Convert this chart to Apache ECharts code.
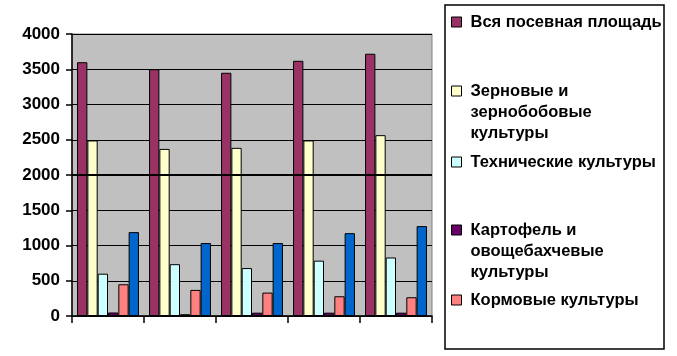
<!DOCTYPE html>
<html><head><meta charset="utf-8">
<script src="https://cdn.jsdelivr.net/npm/echarts@6/dist/echarts.min.js"></script>
<style>html,body{margin:0;padding:0;background:#fff}#c{width:677px;height:356px}</style>
</head><body><div id="c"></div>
<script>
var categories = ['1', '2', '3', '4', '5'];
var seriesNames = ['Вся посевная площадь', 'Зерновые и зернобобовые культуры', 'Технические культуры', 'Картофель и овощебахчевые культуры', 'Кормовые культуры', 'Прочие'];
var legendLines = [['Вся посевная площадь'], ['Зерновые и', 'зернобобовые', 'культуры'], ['Технические культуры'], ['Картофель и', 'овощебахчевые', 'культуры'], ['Кормовые культуры']];
var vsya = [3600, 3500, 3450, 3620, 3720];
var zernovye = [2490, 2370, 2385, 2490, 2565];
var tekhnicheskie = [600, 735, 680, 785, 830];
var kartofel = [50, 25, 47, 47, 47];
var kormovye = [450, 370, 332, 280, 266];
var prochie = [1190, 1035, 1035, 1175, 1275];
var yTicks = [0, 500, 1000, 1500, 2000, 2500, 3000, 3500, 4000];

var colors = ['#993366', '#FFFFCC', '#CCFFFF', '#660066', '#FF8080', '#0066CC'];
var values = [vsya, zernovye, tekhnicheskie, kartofel, kormovye, prochie];
var font = 'Liberation Sans, Arial, sans-serif';

var series = values.map(function (v, i) {
  var s = {
    name: seriesNames[i], type: 'bar', data: v,
    barGap: '0%', barCategoryGap: '14%',
    itemStyle: { color: colors[i], borderColor: '#000', borderWidth: 1 },
    emphasis: { disabled: true }, animation: false
  };
  if (i === 0) {
    s.markLine = { silent: true, symbol: 'none', label: { show: false },
      lineStyle: { color: '#000', width: 2, type: 'solid' },
      data: [{ yAxis: yTicks[4] }] };
  }
  return s;
});

var iconCenters = [22, 91, 162, 230, 300];
var legends = legendLines.map(function (lines, i) {
  var multi = lines.length > 1;
  var txt = multi ? ['', ''].concat(lines).join('\n') : lines[0];
  var top = multi ? iconCenters[i] - 52.5 : iconCenters[i] - 10.5;
  return {
    show: true, orient: 'vertical', left: 451, top: top, padding: 0,
    itemWidth: 10, itemHeight: 10, icon: 'rect', selectedMode: false,
    data: [seriesNames[i]],
    formatter: function () { return txt; },
    itemStyle: { borderColor: '#000', borderWidth: 1 },
    textStyle: { fontFamily: font, fontSize: 16.5, fontWeight: 'bold', color: '#000', lineHeight: 21,
      padding: [0, 0, 0, 4] }
  };
});

var chart = echarts.init(document.getElementById('c'), null, { renderer: 'canvas' });
chart.setOption({
  animation: false,
  graphic: [{ type: 'rect', shape: { x: 445, y: 5, width: 219, height: 344 },
    style: { fill: '#fff', stroke: '#000', lineWidth: 1.5 }, z: -1 }],
  legend: legends,
  grid: { left: 72, right: 245, top: 34, bottom: 40, show: true,
    backgroundColor: '#C0C0C0', borderColor: '#808080', borderWidth: 1 },
  xAxis: { type: 'category', data: categories,
    axisLine: { lineStyle: { color: '#000', width: 1.5 } },
    axisTick: { show: true, length: 7, lineStyle: { color: '#000', width: 1.5 } },
    axisLabel: { show: false }, splitLine: { show: false } },
  yAxis: { type: 'value', min: yTicks[0], max: yTicks[yTicks.length - 1], interval: 500,
    axisLine: { show: true, lineStyle: { color: '#000', width: 1.5 } },
    axisTick: { show: true, length: 6, lineStyle: { color: '#000', width: 1.5 } },
    axisLabel: { fontFamily: font, fontSize: 17, fontWeight: 'bold', color: '#000', margin: 12,
      formatter: function (v) { return String(v); } },
    splitLine: { show: true, lineStyle: { color: '#000', width: 1 } } },
  series: series
});
</script></body></html>
